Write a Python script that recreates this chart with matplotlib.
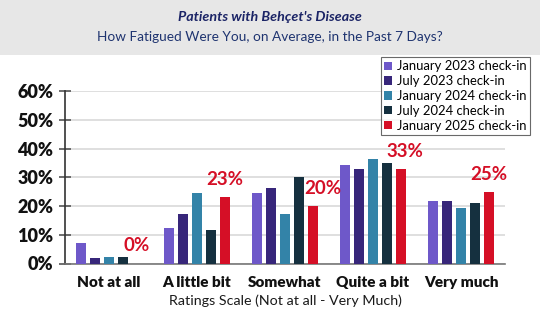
import matplotlib
matplotlib.use("Agg")
import matplotlib.pyplot as plt
import numpy as np
from matplotlib.patches import Rectangle

plt.rcParams["font.family"] = ["Lato", "DejaVu Sans"]

categories = ["Not at all", "A little bit", "Somewhat", "Quite a bit", "Very much"]
series_names = [
    "January 2023 check-in",
    "July 2023 check-in",
    "January 2024 check-in",
    "July 2024 check-in",
    "January 2025 check-in",
]
jan_2023 = [7.0, 12.2, 24.5, 34.1, 21.8]
jul_2023 = [2.0, 17.3, 26.1, 32.7, 21.6]
jan_2024 = [2.3, 24.5, 17.1, 36.5, 19.3]
jul_2024 = [2.3, 11.6, 30.0, 34.9, 21.0]
jan_2025 = [0, 23, 20, 33, 25]
series_values = [jan_2023, jul_2023, jan_2024, jul_2024, jan_2025]
colors = ["#6E58C9", "#37267A", "#3383A8", "#15303F", "#D50F26"]

title = "Patients with Behçet's Disease"
subtitle = "How Fatigued Were You, on Average, in the Past 7 Days?"
xlabel = "Ratings Scale (Not at all - Very Much)"

# horizontal nudge (in points) for the red value labels
label_dx = [0, 0, 7, 3, 0]

fig = plt.figure(figsize=(5.4, 3.28), dpi=100)
fig.patch.set_facecolor("white")

# grey header band
fig.patches.append(Rectangle((0, 1 - 55 / 328), 1, 55 / 328, transform=fig.transFigure,
                             facecolor="#E7E7E7", edgecolor="none", zorder=0))
fig.text(0.5, 1 - 17 / 328, title, ha="center", va="center", fontsize=10.3,
         fontweight="bold", fontstyle="italic", color="#1B2466")
fig.text(0.5, 1 - 37 / 328, subtitle, ha="center", va="center", fontsize=9.8,
         color="#1F3470")

ax = fig.add_axes([65 / 540, 1 - 263.5 / 328, 440 / 540, 172.5 / 328])
x = np.arange(len(categories))
width = 0.12
pitch = 0.159
for i, (name, vals, c) in enumerate(zip(series_names, series_values, colors)):
    offs = (i - 2) * pitch
    ax.bar(x + offs, vals, width=width, color=c, label=name, zorder=3)

for j, v in enumerate(jan_2025):
    ax.annotate(f"{v:.0f}%", (x[j] + 2 * pitch, v), xytext=(label_dx[j], 6.5),
                textcoords="offset points", ha="center", va="bottom",
                fontsize=13.5, fontweight="bold", color="#D50F26", zorder=4)

ax.set_xlim(-0.5, 4.5)
ax.set_ylim(0, 60)
ax.set_yticks(np.arange(0, 61, 10))
ax.set_yticklabels([f"{t}%" for t in range(0, 61, 10)], fontsize=13,
                   fontweight="heavy", color="#111111")
ax.set_xticks(x)
ax.set_xticklabels(categories, fontsize=11, fontweight="heavy", color="#111111")
ax.tick_params(axis="x", length=0, pad=9)
ax.tick_params(axis="y", direction="inout", length=9, width=1.2, color="#555555", pad=4)
ax.set_xlabel(xlabel, fontsize=10.3, color="#1a1a1a", labelpad=4)
ax.grid(axis="y", color="#D9D9D9", linewidth=1.2, zorder=0)
ax.set_axisbelow(True)
for s in ["top", "right"]:
    ax.spines[s].set_visible(False)
ax.spines["left"].set_color("#333333")
ax.spines["left"].set_linewidth(1.2)
ax.spines["bottom"].set_color("#777777")
ax.spines["bottom"].set_linewidth(1.2)

leg = fig.legend(loc="upper left", bbox_to_anchor=(381 / 540, 1 - 57 / 328),
                 fontsize=9.4, frameon=True, fancybox=False, edgecolor="#444444",
                 handlelength=0.6, handleheight=0.6, handletextpad=0.4,
                 labelspacing=0.22, borderpad=0.25, borderaxespad=0)
leg.get_frame().set_linewidth(0.8)

fig.savefig("out.png", dpi=100)
